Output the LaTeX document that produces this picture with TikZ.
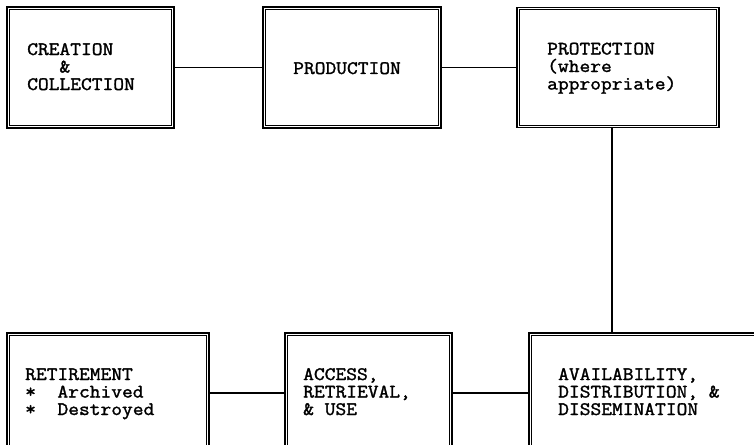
\documentclass[tikz,border=0pt]{standalone}
\usepackage{fontspec}
\setmonofont{Latin Modern Mono}[FakeStretch=1.1,FakeBold=1.6]
\begin{document}
\begin{tikzpicture}[x=1pt,y=-1pt,
  box/.style={draw, line width=1.3pt, inner sep=0pt},
  inbox/.style={line width=0.7pt},
  lbl/.style={anchor=base west, inner sep=0pt, align=left, font=\fontsize{19}{17.5}\selectfont\ttfamily},
  conn/.style={line width=1.1pt}]
\useasboundingbox (0,0) rectangle (754,444);
\clip (0,0) rectangle (754,444);
\fill[white] (0,0) rectangle (754,444);
\node[box, minimum width=167pt, minimum height=121pt] (b1) at (90.5,67.5) {};
\node[box, minimum width=178pt, minimum height=121pt] (b2) at (352,67.5) {};
\node[box, minimum width=202pt, minimum height=120pt] (b3) at (618,67.5) {};
\node[box, minimum width=202pt, minimum height=227pt] (b4) at (108,446.5) {};
\node[box, minimum width=167pt, minimum height=227pt] (b5) at (368.5,446.5) {};
\node[box, minimum width=371pt, minimum height=227pt] (b6) at (714.5,446.5) {};
\foreach \b in {b1,b2,b3,b4,b5,b6}
  \draw[inbox] ([shift={(3,3)}]\b.north west) rectangle ([shift={(-3,-3)}]\b.south east);
\node[lbl] (t1) at (27,90) {CREATION\\\ \ \ \&\\COLLECTION};
\node[lbl] (t2) at (293,74) {PRODUCTION};
\node[lbl] (t3) at (547,89.5) {PROTECTION\\(where\\appropriate)};
\node[lbl] (t4) at (25,415) {RETIREMENT\\*\ \ Archived\\*\ \ Destroyed};
\node[lbl] (t5) at (303,415) {ACCESS,\\RETRIEVAL,\\\&\ USE};
\node[lbl] (t6) at (558,415) {AVAILABILITY,\\DISTRIBUTION,\ \&\\DISSEMINATION};
\coordinate (vx) at (612,0);
\coordinate (cy) at (0,393);
\draw[conn] (b1) -- (b2);
\draw[conn] (b2) -- (b3);
\draw[conn] (b3.south -| vx) -- (b6.north -| vx);
\draw[conn] (b4.east |- cy) -- (b5.west |- cy);
\draw[conn] (b5.east |- cy) -- (b6.west |- cy);
\end{tikzpicture}
\end{document}
